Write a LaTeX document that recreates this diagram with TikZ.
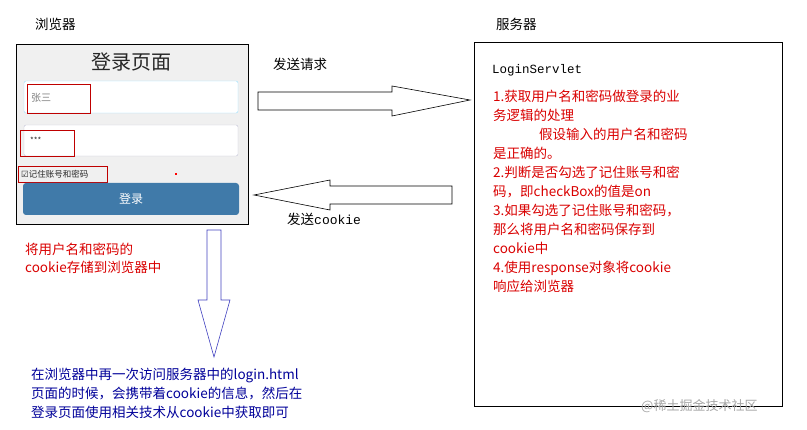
\documentclass[tikz,border=0pt]{standalone}
\usepackage{fontspec}
\setmainfont{Noto Sans CJK SC}
\newfontfamily\mono{Liberation Mono}
\newfontfamily\dv{DejaVu Sans}
\begin{document}
\begin{tikzpicture}[x=1pt,y=-1pt,
  lab/.style={anchor=west,inner sep=0,font=\fontsize{13.5}{16}\selectfont},
  redtxt/.style={lab,text=red!85!black,font=\fontsize{13.5}{19}\selectfont,align=left,anchor=north west},
  redbox/.style={draw=red!75!black,line width=0.8pt},
  field/.style={draw=blue!20!gray!40,fill=white,rounded corners=2pt}]
\useasboundingbox (0,0) rectangle (807,430);
\node[lab] (lb) at (35,24) {浏览器};
\node[lab] (ls) at (496,24) {服务器};
\draw[fill=gray!12,line width=0.8pt] (16,44) rectangle (248,224);
\node[font=\fontsize{20}{22}\selectfont,text=gray!30!black] (title) at (131,62) {登录页面};
\draw[field,draw=blue!30!cyan!40] (24,81) rectangle (238,113);
\draw[field] (24,125) rectangle (238,156);
\draw[redbox] (27,84) rectangle (90,113);
\draw[redbox] (20,130) rectangle (74,156);
\node[lab,text=gray,font=\fontsize{10}{12}\selectfont] (u) at (31,98) {张三};
\node[lab,text=gray!40!black,font=\fontsize{8}{9}\selectfont] (p) at (30,140) {***};
\draw[redbox] (18,166) rectangle (107,182);
\node[lab,font=\fontsize{8.5}{10}\selectfont,text=gray!30!black] (cb) at (21,174) {{\dv ☑}记住账号和密码};
\fill[red] (175,173) rectangle (177,175);
\draw[fill=blue!45!cyan!55!black!75,draw=none,rounded corners=3pt] (23,183) rectangle (239,215);
\node[text=white,font=\fontsize{12}{14}\selectfont] (btn) at (131,199) {登录};
% request arrow
\draw[line width=0.6pt] (258,92) -- (392,92) -- (392,86) -- (470,100) -- (392,116) -- (392,110) -- (258,110) -- cycle;
\node[lab] (req) at (273,64) {发送请求};
% cookie arrow
\draw[line width=0.6pt] (452,186) -- (330,186) -- (330,180) -- (254,195) -- (330,210) -- (330,204) -- (452,204) -- cycle;
\node[lab] (ck) at (287,219) {发送{\mono\fontsize{13}{15}\selectfont cookie}};
% server
\draw[line width=0.8pt] (474,42) rectangle (782,406);
\node[lab,font=\mono\fontsize{12.5}{14}\selectfont] (srv) at (492,70) {LoginServlet};
\node[redtxt] (steps) at (493,90) {1.获取用户名和密码做登录的业\\务逻辑的处理\\\hspace{3.4em}假设输入的用户名和密码\\是正确的。\\2.判断是否勾选了记住账号和密\\码，即checkBox的值是on\\3.如果勾选了记住账号和密码，\\那么将用户名和密码保存到\\cookie中\\4.使用response对象将cookie\\响应给浏览器};
\node[redtxt,font=\fontsize{13.5}{18}\selectfont] (store) at (25,243) {将用户名和密码的\\cookie存储到浏览器中};
% down arrow
\draw[draw=blue!50!gray,line width=0.6pt] (207,230) -- (221,230) -- (221,300) -- (230,300) -- (214,357) -- (198,300) -- (207,300) -- cycle;
\node[redtxt,text=blue!60!black,font=\fontsize{13.5}{19}\selectfont] (visit) at (31,368) {在浏览器中再一次访问服务器中的login.html\\页面的时候，会携带着cookie的信息，然后在\\登录页面使用相关技术从cookie中获取即可};
\node[lab,text=gray!70,font=\fontsize{13}{15}\selectfont] (wm) at (641,406) {@稀土掘金技术社区};
\end{tikzpicture}
\end{document}
